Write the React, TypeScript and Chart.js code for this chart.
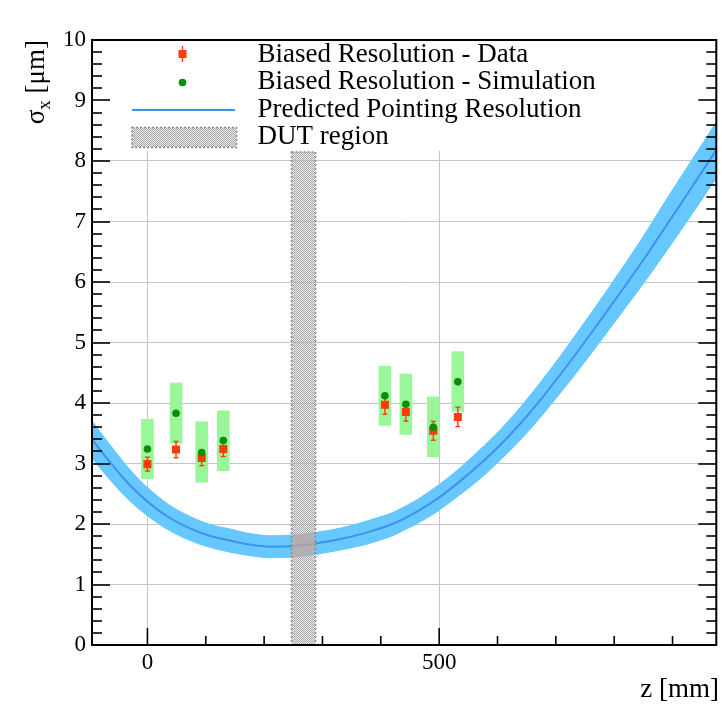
import React, { useEffect, useRef } from "react";
import { Chart, registerables } from "chart.js";

Chart.register(...registerables);

// ---------- data ----------
const curveZ = [-95, -65, -30, 0, 35, 70, 105, 140, 175, 210, 250, 290, 335, 380, 425, 470, 500, 535, 570, 605, 640, 675, 710, 745, 785, 822, 856, 889, 925, 960, 975];
const curveY = [3.40, 3.03, 2.64, 2.37, 2.12, 1.94, 1.81, 1.73, 1.66, 1.625, 1.635, 1.68, 1.76, 1.87, 2.02, 2.25, 2.44, 2.70, 2.99, 3.31, 3.67, 4.07, 4.50, 4.95, 5.48, 5.98, 6.45, 6.93, 7.45, 7.96, 8.18];
const curveHalf = [0.32, 0.30, 0.27, 0.24, 0.22, 0.21, 0.20, 0.20, 0.19, 0.19, 0.19, 0.19, 0.19, 0.20, 0.20, 0.21, 0.22, 0.23, 0.25, 0.26, 0.28, 0.30, 0.32, 0.34, 0.36, 0.38, 0.41, 0.44, 0.46, 0.47, 0.48];

const pointZ = [0, 49, 93, 130, 407, 443, 490, 532];
const dataY = [2.99, 3.23, 3.09, 3.24, 3.97, 3.85, 3.54, 3.77];
const dataErr = [0.115, 0.135, 0.125, 0.125, 0.155, 0.15, 0.155, 0.16];
const simY = [3.24, 3.83, 3.18, 3.38, 4.12, 3.98, 3.60, 4.35];
const simLow = [2.75, 3.33, 2.69, 2.88, 3.63, 3.48, 3.11, 3.86];
const simHigh = [3.73, 4.33, 3.69, 3.87, 4.61, 4.48, 4.10, 4.85];

const dutRange = [247, 288];
const dutTop = 8.15;

const xMin = -95;
const xMax = 975;
const yMin = 0;
const yMax = 10;
const xMajorTicks = [0, 500];
const yMajorTicks = [0, 1, 2, 3, 4, 5, 6, 7, 8, 9, 10];
const xMinorStep = 100;
const yMinorStep = 0.2;

const legendLabels = [
  "Biased Resolution - Data",
  "Biased Resolution - Simulation",
  "Predicted Pointing Resolution",
  "DUT region",
];
const xTitle = "z [mm]";

// ---------- style ----------
const FONT = '"Liberation Serif", "DejaVu Serif", serif';
const RED = "#ff3b0a";
const GREEN = "#0b8c0b";
const SIMBOX = "#99f799";
const BAND = "#66c8ff";
const LINE = "#3b93f0";
const GRID = "#c4c4c4";

export default function App() {
  const ref = useRef<HTMLCanvasElement>(null);

  useEffect(() => {
    const canvas = ref.current!;
    const pat = document.createElement("canvas");
    pat.width = 2;
    pat.height = 2;
    const pctx = pat.getContext("2d")!;
    pctx.fillStyle = "#a8a8a8";
    pctx.fillRect(0, 0, 1, 1);
    pctx.fillRect(1, 1, 1, 1);
    pctx.fillStyle = "rgba(200,200,200,0.35)";
    pctx.fillRect(1, 0, 1, 1);
    pctx.fillRect(0, 1, 1, 1);
    const dutPattern = canvas.getContext("2d")!.createPattern(pat, "repeat")!;

    const drawDutBox = (ctx: CanvasRenderingContext2D, x0: number, y0: number, x1: number, y1: number) => {
      ctx.save();
      ctx.fillStyle = dutPattern;
      ctx.fillRect(x0, y0, x1 - x0, y1 - y0);
      ctx.strokeStyle = "#8a8a8a";
      ctx.lineWidth = 1.5;
      ctx.setLineDash([2, 2]);
      ctx.strokeRect(x0, y0, x1 - x0, y1 - y0);
      ctx.restore();
    };

    const line = (ctx: CanvasRenderingContext2D, x0: number, y0: number, x1: number, y1: number) => {
      ctx.beginPath();
      ctx.moveTo(x0, y0);
      ctx.lineTo(x1, y1);
      ctx.stroke();
    };

    const rootPlugin = {
      id: "rootStyle",
      beforeDatasetsDraw(chart: any) {
        const { ctx, chartArea: a, scales } = chart;
        const yb = scales.y.getPixelForValue(dutTop + 0.02);
        ctx.save();
        ctx.fillStyle = "#fff";
        ctx.fillRect(a.left + 1, a.top + 1, a.right - a.left - 2, yb - a.top - 1);
        ctx.restore();
      },
      beforeDatasetDraw(chart: any, args: any) {
        if (args.index !== 4) return;
        const { ctx, scales } = chart;
        ctx.save();
        ctx.strokeStyle = RED;
        ctx.lineWidth = 1.4;
        for (let i = 0; i < pointZ.length; i++) {
          const px = scales.x.getPixelForValue(pointZ[i]);
          const y0 = scales.y.getPixelForValue(dataY[i] - dataErr[i]);
          const y1 = scales.y.getPixelForValue(dataY[i] + dataErr[i]);
          line(ctx, px, y0, px, y1);
          line(ctx, px - 2.5, y0, px + 2.5, y0);
          line(ctx, px - 2.5, y1, px + 2.5, y1);
        }
        ctx.restore();
      },
      afterDatasetDraw(chart: any, args: any) {
        if (args.index !== 2) return;
        const { ctx, scales } = chart;
        drawDutBox(
          ctx,
          scales.x.getPixelForValue(dutRange[0]),
          scales.y.getPixelForValue(dutTop),
          scales.x.getPixelForValue(dutRange[1]),
          scales.y.getPixelForValue(0)
        );
      },
      afterDraw(chart: any) {
        const { ctx, chartArea: a, scales } = chart;
        const xs = scales.x;
        const ys = scales.y;
        ctx.save();
        ctx.strokeStyle = "#000";
        ctx.lineWidth = 1.6;
        for (let k = 0; yMin + k * yMinorStep <= yMax + 1e-9; k++) {
          const v = yMin + k * yMinorStep;
          const py = Math.round(ys.getPixelForValue(v));
          const major = Math.abs(v - Math.round(v)) < 1e-6;
          const len = major ? 18 : 10;
          line(ctx, a.left, py, a.left + len, py);
          line(ctx, a.right, py, a.right - len, py);
        }
        for (let v = Math.ceil(xMin / xMinorStep) * xMinorStep; v <= xMax; v += xMinorStep) {
          const px = xs.getPixelForValue(v);
          const major = xMajorTicks.includes(v);
          const len = major ? 17 : 9;
          line(ctx, px, a.bottom, px, a.bottom - len);
        }
        ctx.lineWidth = 2;
        ctx.strokeRect(a.left, a.top, a.right - a.left, a.bottom - a.top);

        // legend
        const rowsMarker = [54, 82.5, 110, 137.5];
        const rowsText = [61.5, 88.5, 116.5, 143.5];
        const mx = 182.5;
        ctx.strokeStyle = RED;
        ctx.lineWidth = 1.4;
        line(ctx, mx, rowsMarker[0] - 8, mx, rowsMarker[0] + 8);
        ctx.fillStyle = RED;
        ctx.fillRect(mx - 4, rowsMarker[0] - 4, 8, 8);
        ctx.fillStyle = GREEN;
        ctx.beginPath();
        ctx.arc(mx, rowsMarker[1], 3.8, 0, Math.PI * 2);
        ctx.fill();
        ctx.strokeStyle = LINE;
        ctx.lineWidth = 2;
        line(ctx, 132, rowsMarker[2], 235, rowsMarker[2]);
        drawDutBox(ctx, 132, rowsMarker[3] - 10, 236.5, rowsMarker[3] + 10);
        ctx.fillStyle = "#000";
        ctx.font = `27px ${FONT}`;
        ctx.textAlign = "left";
        ctx.textBaseline = "alphabetic";
        legendLabels.forEach((t, i) => ctx.fillText(t, 257.5, rowsText[i]));

        ctx.textAlign = "right";
        ctx.fillText(xTitle, 719, 697);

        ctx.translate(43.5, 40);
        ctx.rotate(-Math.PI / 2);
        const f1 = `27px ${FONT}`;
        const f2 = `19px ${FONT}`;
        ctx.font = f1;
        const wS = ctx.measureText("\u03C3").width;
        const wR = ctx.measureText(" [\u03BCm]").width;
        ctx.font = f2;
        const wX = ctx.measureText("x").width;
        let u = -(wS + wX + wR);
        ctx.textAlign = "left";
        ctx.font = f1;
        ctx.fillText("\u03C3", u, 0);
        u += wS;
        ctx.font = f2;
        ctx.fillText("x", u, 6);
        u += wX;
        ctx.font = f1;
        ctx.fillText(" [\u03BCm]", u, 0);
        ctx.restore();
      },
    };

    const tickFont = { family: FONT, size: 23 };

    const chart = new Chart(canvas, {
      type: "line",
      data: {
        datasets: [
          {
            data: curveZ.map((z, i) => ({ x: z, y: curveY[i] + curveHalf[i] })),
            borderWidth: 0,
            pointRadius: 0,
            fill: "+1",
            backgroundColor: BAND,
            borderColor: BAND,
            cubicInterpolationMode: "monotone",
            order: 7,
          },
          {
            data: curveZ.map((z, i) => ({ x: z, y: curveY[i] - curveHalf[i] })),
            borderWidth: 0,
            pointRadius: 0,
            fill: false,
            borderColor: BAND,
            cubicInterpolationMode: "monotone",
            order: 6,
          },
          {
            data: curveZ.map((z, i) => ({ x: z, y: curveY[i] })),
            borderWidth: 2,
            borderColor: LINE,
            pointRadius: 0,
            fill: false,
            cubicInterpolationMode: "monotone",
            order: 5,
          },
          {
            type: "bar",
            data: pointZ.map((z, i) => ({ x: z, y: [simLow[i], simHigh[i]] })),
            backgroundColor: SIMBOX,
            borderWidth: 0,
            barThickness: 12,
            order: 4,
          } as any,
          {
            data: pointZ.map((z, i) => ({ x: z, y: dataY[i] })),
            showLine: false,
            pointStyle: "rect",
            pointRadius: 5.7,
            pointBorderWidth: 0,
            pointBackgroundColor: RED,
            borderColor: RED,
            order: 3,
          },
          {
            data: pointZ.map((z, i) => ({ x: z, y: simY[i] })),
            showLine: false,
            pointStyle: "circle",
            pointRadius: 3.8,
            pointBorderWidth: 0,
            pointBackgroundColor: GREEN,
            borderColor: GREEN,
            order: 2,
          },
        ],
      },
      options: {
        responsive: false,
        animation: false,
        devicePixelRatio: 1,
        layout: { padding: { top: 40, right: 4, left: 0, bottom: 0 } },
        plugins: {
          legend: { display: false },
          tooltip: { enabled: false },
        },
        scales: {
          x: {
            type: "linear",
            min: xMin,
            max: xMax,
            offset: false,
            afterBuildTicks: (s: any) => {
              s.ticks = xMajorTicks.map((v) => ({ value: v }));
            },
            afterFit: (s: any) => {
              s.height = 67;
            },
            grid: { color: GRID, lineWidth: 1, drawTicks: false, offset: false },
            border: { display: false },
            ticks: {
              font: tickFont,
              color: "#000",
              padding: 4,
              maxRotation: 0,
              autoSkip: false,
              callback: (v: any) => String(v),
            },
          },
          y: {
            type: "linear",
            min: yMin,
            max: yMax,
            afterBuildTicks: (s: any) => {
              s.ticks = yMajorTicks.map((v) => ({ value: v }));
            },
            afterFit: (s: any) => {
              s.width = 92;
            },
            grid: { color: GRID, lineWidth: 1, drawTicks: false, offset: false },
            border: { display: false },
            ticks: {
              font: tickFont,
              color: "#000",
              padding: 6,
              autoSkip: false,
              callback: (v: any) => String(v),
            },
          },
        },
      },
      plugins: [rootPlugin],
    } as any);

    return () => {
      chart.destroy();
    };
  }, []);

  return (
    <div style={{ position: "absolute", left: 0, top: 0, width: 722, height: 712, background: "#fff" }}>
      <canvas ref={ref} width={722} height={712} style={{ display: "block", width: 722, height: 712 }} />
    </div>
  );
}
